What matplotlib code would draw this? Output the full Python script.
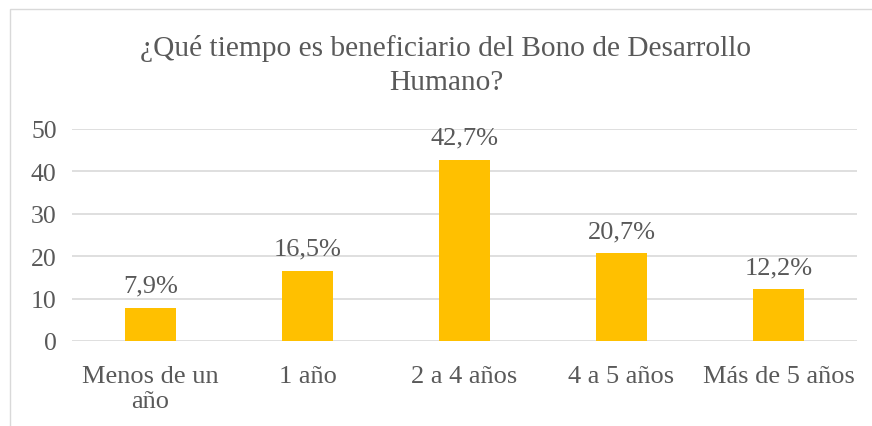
import matplotlib.pyplot as plt
from matplotlib.patches import Rectangle

# Data
categorias = ['Menos de un\naño', '1 año', '2 a 4 años', '4 a 5 años', 'Más de 5 años']
porcentajes = [7.9, 16.5, 42.7, 20.7, 12.2]
etiquetas = ['7,9%', '16,5%', '42,7%', '20,7%', '12,2%']
yticks = [0, 10, 20, 30, 40, 50]

texto = '#595959'
plt.rcParams['font.family'] = ['Liberation Serif', 'DejaVu Serif']

fig = plt.figure(figsize=(8.72, 4.27), dpi=100)
ax = fig.add_axes([72 / 872, 1 - 342 / 427, 785 / 872, 212 / 427])

# Chart border (partly cropped on right and bottom)
fig.patches.append(Rectangle((10 / 872, -0.1), 1.0, 1 - 10 / 427 + 0.1,
                             transform=fig.transFigure, fill=False,
                             edgecolor='#D9D9D9', linewidth=1.0))

x = range(len(categorias))
barras = ax.bar(x, porcentajes, width=0.32, color='#FFC000', zorder=3)
ax.bar_label(barras, labels=etiquetas, padding=8, fontsize=19, color=texto)

ax.set_xlim(-0.5, 4.5)
ax.set_ylim(0, 50)
ax.set_yticks(yticks)
ax.set_xticks(list(x))
ax.set_xticklabels(categorias, fontsize=19, color=texto, linespacing=1.2, va='top')
ax.tick_params(axis='y', length=0, pad=11, labelsize=18.5, labelcolor=texto)
ax.tick_params(axis='x', length=0, pad=17)
ax.grid(axis='y', color='#D9D9D9', linewidth=1.2, zorder=0)
for s in ax.spines.values():
    s.set_visible(False)

fig.text(446 / 872, 1 - 35 / 427,
         '¿Qué tiempo es beneficiario del Bono de Desarrollo\nHumano?',
         ha='center', va='top', fontsize=21.2, color=texto, linespacing=1.4)

plt.savefig('out.png', dpi=100)
